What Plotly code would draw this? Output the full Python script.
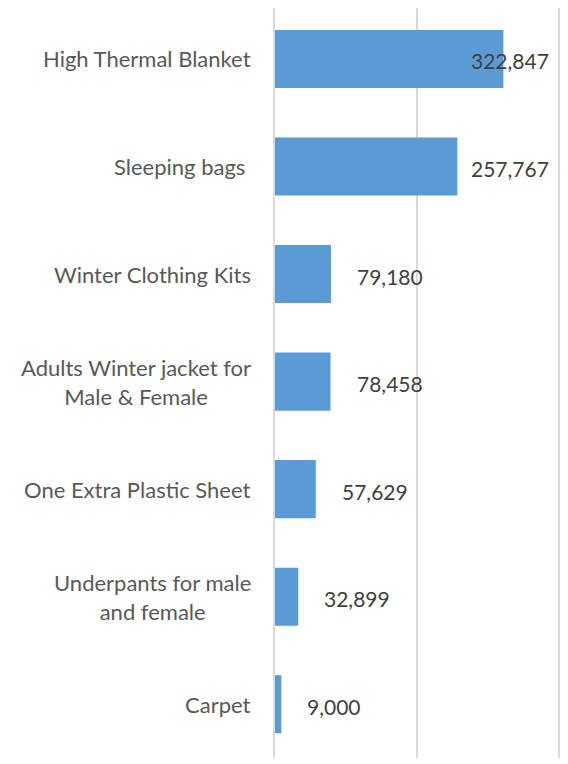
import plotly.graph_objects as go

categories = [
    "High Thermal Blanket",
    "Sleeping bags\u00a0",
    "Winter Clothing Kits",
    "Adults Winter jacket for<br>Male & Female",
    "One Extra Plastic Sheet",
    "Underpants for male<br>and female",
    "Carpet",
]
values = [322847, 257767, 79180, 78458, 57629, 32899, 9000]
x_ticks = [0, 200000, 400000]

BAR_COLOR = "#5B9BD5"
GRID = "#D9D9D9"
FONT = "Lato"
X_MAX = 400000

fig = go.Figure()
fig.add_trace(go.Bar(
    y=list(range(len(categories))), x=values, orientation="h",
    marker=dict(color=BAR_COLOR, line=dict(width=0)),
    hoverinfo="skip",
))

annotations = []
# category labels: lines centered within the block, block right-anchored
for i, c in enumerate(categories):
    annotations.append(dict(
        x=0, xref="paper", y=i, yref="y", text=c, showarrow=False,
        xanchor="right", yanchor="middle", align="center", xshift=-22,
        font=dict(family=FONT, size=22, color="#595959"),
    ))
# value labels: outside end, clamped inside chart area
for i, v in enumerate(values):
    label = f"{v:,}"
    if v > 255000:
        annotations.append(dict(
            x=X_MAX, xref="x", y=i, yref="y", text=label, showarrow=False,
            xanchor="right", yanchor="middle", xshift=-7, yshift=-2,
            font=dict(family=FONT, size=21, color="#404040"),
        ))
    else:
        annotations.append(dict(
            x=v, xref="x", y=i, yref="y", text=label, showarrow=False,
            xanchor="left", yanchor="middle", xshift=24, yshift=-2,
            font=dict(family=FONT, size=21, color="#404040"),
        ))

fig.update_layout(
    width=560, height=756,
    margin=dict(l=267, r=10, t=0, b=6),
    paper_bgcolor="white", plot_bgcolor="white",
    showlegend=False,
    bargap=0.46,
    annotations=annotations,
    xaxis=dict(range=[0, X_MAX], tickvals=x_ticks, showticklabels=False,
               showgrid=True, gridcolor=GRID, gridwidth=2,
               zeroline=False, showline=False, fixedrange=True),
    yaxis=dict(range=[6.5, -0.474], showticklabels=False, showgrid=False,
               zeroline=False, showline=True, mirror=True,
               linecolor=GRID, linewidth=2, fixedrange=True),
)
fig.write_html("out.html")
